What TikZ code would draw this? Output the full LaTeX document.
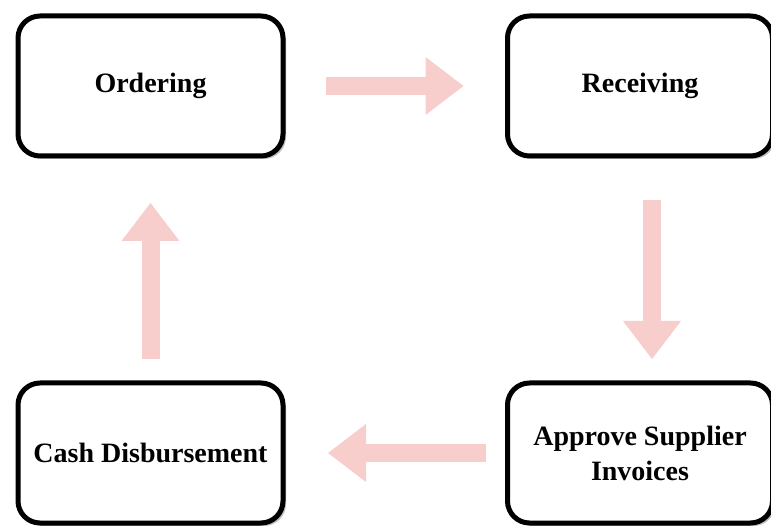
\documentclass[tikz,border=0pt]{standalone}
\usepackage{fontspec}
\setmainfont{Liberation Serif}
\usetikzlibrary{arrows.meta,shadows}
\definecolor{flowpink}{HTML}{F8CECC}
\tikzset{
	stage/.style={rectangle,rounded corners=22pt,draw=black,line width=5pt,fill=white,
		minimum width=265pt,minimum height=140pt,align=center,
		font=\fontsize{28}{35}\selectfont\bfseries,
		drop shadow={shadow xshift=3pt,shadow yshift=-3pt,fill=black!50,opacity=0.5}},
	flow/.style={draw=flowpink,line width=18pt,-{Triangle[length=38pt,width=58pt,line width=0pt]}}
}
\begin{document}
\begin{tikzpicture}[x=1pt,y=-1pt]
	\useasboundingbox (0,0) rectangle (771,526);
	
	\node (order) at (150.5,86) [stage] {Ordering};
	\node (receive) at (640,86) [stage] {Receiving};
	\node (approve) at (640,453) [stage] {Approve Supplier\\Invoices};
	\node (cash) at (150.5,453) [stage] {Cash Disbursement};
	
	\draw[flow,shorten <=40.5pt,shorten >=41.5pt] (order.east) -- (receive.west);
	\draw[flow,shorten <=41.5pt,shorten >=21.5pt] ([xshift=12pt]receive.south) -- ([xshift=12pt]approve.north);
	\draw[flow,shorten <=19pt,shorten >=42.5pt] (approve.west) -- (cash.east);
	\draw[flow,shorten <=21.5pt,shorten >=44.5pt] (cash.north) -- (order.south);
\end{tikzpicture}
\end{document}
